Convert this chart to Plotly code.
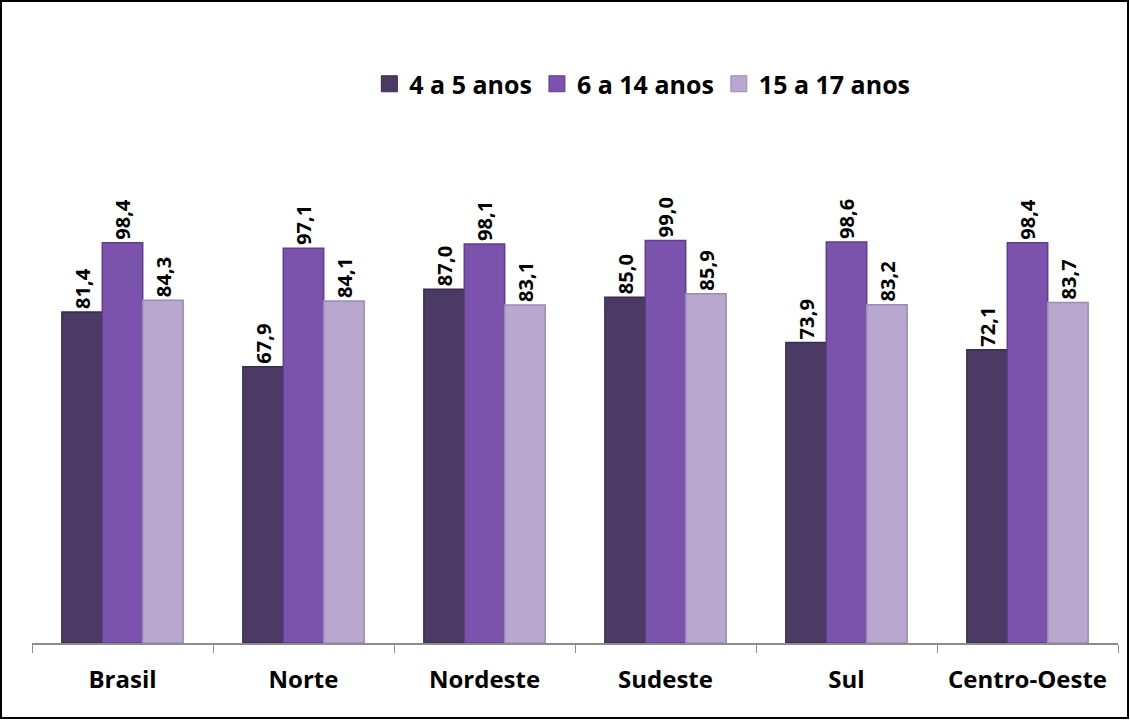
import plotly.graph_objects as go

categories = ["Brasil", "Norte", "Nordeste", "Sudeste", "Sul", "Centro-Oeste"]
series_names = ["4 a 5 anos", "6 a 14 anos", "15 a 17 anos"]
v_4_5 = [81.4, 67.9, 87.0, 85.0, 73.9, 72.1]
v_6_14 = [98.4, 97.1, 98.1, 99.0, 98.6, 98.4]
v_15_17 = [84.3, 84.1, 83.1, 85.9, 83.2, 83.7]

colors = ["#4b3a63", "#7b53ad", "#b8a7cf"]
edge = ["#3a2c4e", "#5e3f88", "#9c8ab5"]

W, H = 1130, 720
ML, MR, MT, MB = 32, 12, 155, 77
PW, PH = W - ML - MR, H - MT - MB

fig = go.Figure()
for name, vals, c, e in zip(series_names, [v_4_5, v_6_14, v_15_17], colors, edge):
    fig.add_trace(go.Bar(
        x=categories, y=vals, name=name, showlegend=False, legendgroup=name,
        marker=dict(color=c, line=dict(color=e, width=1.5)),
        texttemplate="%{y:.1f}", textposition="outside", textangle=-90,
        cliponaxis=False,
        textfont=dict(family="Open Sans", size=24, color="#000000", weight="bold"),
    ))
for name, c, e in zip(series_names, colors, edge):
    fig.add_trace(go.Scatter(
        x=[None], y=[None], mode="markers", name=name, legendgroup=name,
        marker=dict(symbol="square", size=16, color=c, line=dict(color=e, width=1)),
    ))

fig.update_layout(
    width=W, height=H,
    margin=dict(l=ML, r=MR, t=MT, b=MB),
    paper_bgcolor="white", plot_bgcolor="white",
    barmode="group", bargap=0.33, bargroupgap=0,
    separators=",.",
    font=dict(family="Open Sans", color="#000000"),
    legend=dict(orientation="h", x=0.562, xanchor="center",
                y=1 + (MT - 84) / PH, yref="paper", yanchor="middle",
                font=dict(size=25, family="Open Sans", weight="bold"),
                traceorder="normal", itemwidth=30, tracegroupgap=0),
    showlegend=True,
)
fig.add_shape(type="rect", xref="paper", yref="paper",
              x0=-(ML - 1) / PW, x1=1 + (MR - 2) / PW,
              y0=-(MB - 2) / PH, y1=1 + (MT - 1) / PH,
              line=dict(color="black", width=2), layer="above")

fig.update_xaxes(showline=True, linecolor="#8c8c8c", linewidth=1.5,
                 ticks="outside", tickson="boundaries", ticklen=8, tickcolor="#8c8c8c",
                 tickfont=dict(size=24, family="Open Sans", weight="bold"),
                 ticklabelstandoff=14,
                 showgrid=False)
fig.update_yaxes(range=[0, 120], visible=False, showgrid=False)

fig.write_html("out.html", config={"displayModeBar": False},
               post_script="document.body.style.margin='0';document.body.style.padding='0';")
